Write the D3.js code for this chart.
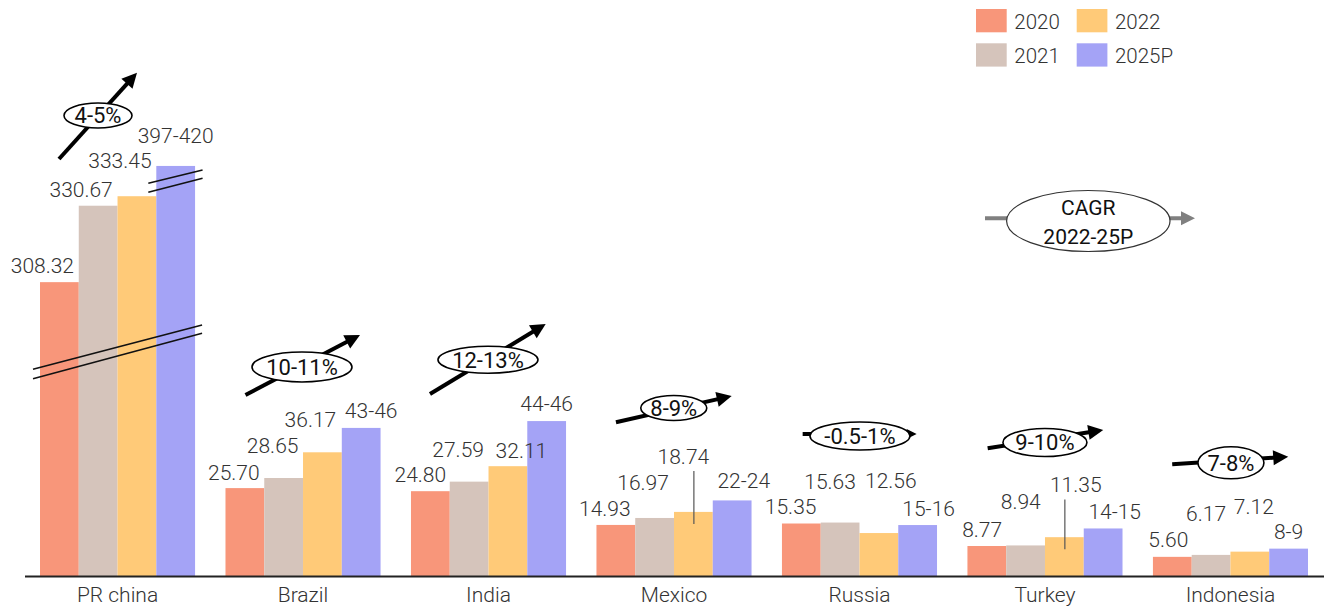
<!DOCTYPE html>
<html><head><meta charset="utf-8">
<script src="https://cdn.jsdelivr.net/npm/d3@7"></script>
<style>body{margin:0;background:#fff} svg{display:block}</style>
</head><body><svg id="c" width="1332" height="607"></svg>
<script>
// ---------- data ----------
const categories = ["PR china","Brazil","India","Mexico","Russia","Turkey","Indonesia"];
const seriesNames = ["2020","2021","2022","2025P"];
const values2020 = [308.32,25.70,24.80,14.93,15.35,8.77,5.60];
const values2021 = [330.67,28.65,27.59,16.97,15.63,8.94,6.17];
const values2022 = [333.45,36.17,32.11,18.74,12.56,11.35,7.12];
const values2025P = [408.5,43.3,45.3,22.1,14.9,13.9,8.0];   // bar heights
const labels2025P = ["397-420","43-46","44-46","22-24","15-16","14-15","8-9"];
const cagrLabels = ["4-5%","10-11%","12-13%","8-9%","-0.5-1%","9-10%","7-8%"];
const colors = ["#F8967A","#D5C4BB","#FFCA78","#A4A3F6"];

// ---------- layout ----------
const W = 1332, H = 607, base = 576, k = 3.42;
// broken value axis: two collapsed segments
const yDom = [0, 66, 288.4, 337.9, 404.1, 520];
const yRng = [];
{ let h = 0; yRng.push(base);
  const flat = [false, true, false, true, false];
  for (let i = 1; i < yDom.length; i++) { if (!flat[i-1]) h += (yDom[i]-yDom[i-1])*k; yRng.push(base - h); } }
const y = d3.scaleLinear().domain(yDom).range(yRng);
const x0 = d3.scaleBand().domain(categories).range([40,1308]).paddingInner(0.164).paddingOuter(0);
const x1 = d3.scaleBand().domain(seriesNames).range([0, x0.bandwidth()]).padding(0);

// label nudges [dx from bar centre, dy from bar top]
const labelNudge = [
  [[-17,-9],[-17,-9],[-17,-28],[0,-23]],
  [[-11,-8],[-11,-25],[-12,-25],[10,-10]],
  [[-10,-9],[-11,-25],[13.5,-8],[0,-10]],
  [[-11,-9],[-11.5,-28],[-10,-48],[11.6,-12]],
  [[-10.7,-10],[-10,-34],[12,-44.7],[11,-9.3]],
  [[-4.7,-8.7],[-4.8,-36],[11.4,-44.7],[11.6,-9.3]],
  [[-4,-9.6],[-5,-34.3],[4,-37.7],[0,-9.7]]
];
const leaders = [[3,2],[5,2]];
// CAGR arrow annotations (x offsets from group left, absolute y)
const annot = [
  {x1:19,y1:159,x2:97,y2:72.7,cx:58,cy:115.5,rx:34,ry:12.5,h:15},
  {x1:20,y1:395,x2:134.5,y2:335,cx:76.5,cy:367,rx:50,ry:15,h:15},
  {x1:19,y1:394,x2:134.7,y2:324,cx:77,cy:359.7,rx:50,ry:13.5,h:15},
  {x1:19.5,y1:422.3,x2:135.2,y2:396,cx:77.3,cy:408,rx:33,ry:12.5,h:15},
  {x1:20.7,y1:434,x2:134.7,y2:434,cx:78,cy:436,rx:50,ry:14,h:10},
  {x1:20.2,y1:448.3,x2:135.8,y2:430,cx:77.5,cy:442.5,rx:42,ry:14,h:15},
  {x1:19.3,y1:464.3,x2:135.3,y2:456.7,cx:78,cy:462.8,rx:33,ry:16,h:15}
];

const svg = d3.select("#c");
const font = "Roboto, 'Noto Sans', sans-serif";
const series = [values2020, values2021, values2022, values2025P];
const fmt = d3.format(".2f");

// bars
const rows = [];
categories.forEach((c, i) => seriesNames.forEach((s, j) => rows.push({c, i, s, j, v: series[j][i]})));
svg.append("g").selectAll("rect").data(rows).join("rect")
  .attr("x", d => x0(d.c) + x1(d.s)).attr("width", x1.bandwidth())
  .attr("y", d => y(d.v)).attr("height", d => base - y(d.v))
  .attr("fill", d => colors[d.j]);

// break marks on PR china
const gC = x0(categories[0]);
const yb1 = y(yDom[1]), yb2 = y(yDom[3]);
const brk = svg.append("g").attr("stroke", "#111").attr("stroke-width", 1.6);
[[19,-25.3],[28.4,-17]].forEach(([a,b]) =>
  brk.append("line").attr("x1", gC-7).attr("y1", yb1+a).attr("x2", gC+x0.bandwidth()+7).attr("y2", yb1+b));
const xb = gC + x1("2025P");
[[2.3,-11],[11.3,-2.7]].forEach(([a,b]) =>
  brk.append("line").attr("x1", xb-8).attr("y1", yb2+a).attr("x2", xb+x1.bandwidth()+7.5).attr("y2", yb2+b));

// leader lines
leaders.forEach(([i,j]) => {
  const cx = x0(categories[i]) + x1(seriesNames[j]) + x1.bandwidth()/2 + 0.5;
  const top = y(series[j][i]);
  svg.append("line").attr("x1", cx).attr("x2", cx)
    .attr("y1", top + labelNudge[i][j][1] + 7).attr("y2", top + 12)
    .attr("stroke", "#555").attr("stroke-width", 1.2);
});

// value labels
svg.append("g").selectAll("text").data(rows).join("text")
  .attr("x", d => x0(d.c) + x1(d.s) + x1.bandwidth()/2 + labelNudge[d.i][d.j][0])
  .attr("y", d => y(d.v) + labelNudge[d.i][d.j][1])
  .attr("text-anchor", "middle")
  .attr("font-family", font).attr("font-weight", 300).attr("font-size", 21).attr("fill", "#333")
  .text(d => d.j === 3 ? labels2025P[d.i] : fmt(d.v));

// axis
const ax = svg.append("g").attr("transform", `translate(0,${base})`)
  .call(d3.axisBottom(x0).tickSize(0).tickPadding(11.5));
ax.select(".domain").remove();
ax.selectAll("text").attr("font-family", font).attr("font-weight", 300).attr("font-size", 21).attr("fill", "#333");
svg.append("line").attr("x1", 25).attr("x2", 1324).attr("y1", base+0.5).attr("y2", base+0.5)
  .attr("stroke", "#222").attr("stroke-width", 2);

// arrow helper
function arrow(g, xA, yA, xB, yB, hl, color, sw) {
  const ang = Math.atan2(yB - yA, xB - xA), hw = hl*0.5;
  const bx = xB - hl*Math.cos(ang), by = yB - hl*Math.sin(ang);
  g.append("line").attr("x1", xA).attr("y1", yA).attr("x2", bx + 2*Math.cos(ang)).attr("y2", by + 2*Math.sin(ang))
    .attr("stroke", color).attr("stroke-width", sw);
  const px = -Math.sin(ang)*hw, py = Math.cos(ang)*hw;
  g.append("path").attr("d", `M${xB},${yB}L${bx+px},${by+py}L${bx-px},${by-py}Z`).attr("fill", color);
}

// CAGR annotations
annot.forEach((a, i) => {
  const g0 = x0(categories[i]);
  const g = svg.append("g");
  arrow(g, g0+a.x1, a.y1, g0+a.x2, a.y2, a.h, "#000", 4);
  g.append("ellipse").attr("cx", g0+a.cx).attr("cy", a.cy).attr("rx", a.rx).attr("ry", a.ry)
    .attr("fill", "#fff").attr("stroke", "#000").attr("stroke-width", 1.6);
  g.append("text").attr("x", g0+a.cx).attr("y", a.cy).attr("dy", "0.36em")
    .attr("text-anchor", "middle").attr("font-family", font).attr("font-size", 22).attr("fill", "#111")
    .text(cagrLabels[i]);
});

// CAGR key
{
  const g = svg.append("g");
  arrow(g, 985, 218.3, 1195, 218.3, 14, "#808080", 4);
  g.append("ellipse").attr("cx", 1088.3).attr("cy", 221).attr("rx", 81.7).attr("ry", 30.5)
    .attr("fill", "#fff").attr("stroke", "#333").attr("stroke-width", 1.2);
  g.append("text").attr("x", 1088.3).attr("y", 215).attr("text-anchor", "middle")
    .attr("font-family", font).attr("font-size", 21).attr("fill", "#111").text("CAGR");
  g.append("text").attr("x", 1088.3).attr("y", 244).attr("text-anchor", "middle")
    .attr("font-family", font).attr("font-size", 21).attr("fill", "#111").text("2022-25P");
}

// legend
const lg = svg.append("g").selectAll("g").data(seriesNames).join("g")
  .attr("transform", (d, i) => `translate(${976 + Math.floor(i/2)*100.7},${9 + (i%2)*34.3})`);
lg.append("rect").attr("width", 30.7).attr("height", 23.3).attr("fill", (d, i) => colors[i]);
lg.append("text").attr("x", 38.3).attr("y", 20).attr("font-family", font).attr("font-weight", 300)
  .attr("font-size", 20.5).attr("fill", "#333").text(d => d);
</script></body></html>
